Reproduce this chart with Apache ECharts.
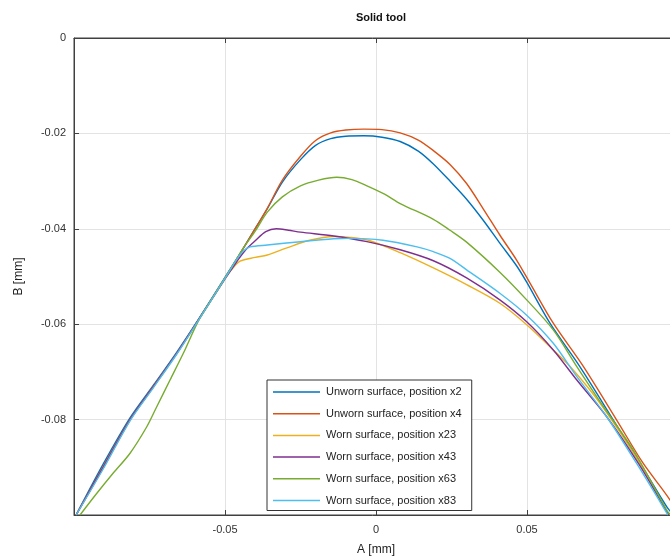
<!DOCTYPE html>
<html>
<head>
<meta charset="utf-8">
<title>Solid tool</title>
<script src="https://cdn.jsdelivr.net/npm/echarts@6/dist/echarts.min.js"></script>
<style>
    html, body { margin: 0; padding: 0; background: #fff; }
    #chart { width: 670px; height: 559px; }
</style>
</head>
<body>
<div id="chart"></div>
<script>
// [A, B] pairs in mm
let unwornX2 = [
    [-0.0993, -0.1], [-0.0903, -0.0893], [-0.0815, -0.0797], [-0.0737, -0.0728], [-0.066, -0.0659],
    [-0.0588, -0.059], [-0.05, -0.0502], [-0.045, -0.0452], [-0.0405, -0.0405], [-0.036, -0.0358],
    [-0.031, -0.0302], [-0.025, -0.0255], [-0.020, -0.0225], [-0.015, -0.0211], [-0.01, -0.0206],
    [-0.004, -0.0205], [0.002, -0.0208], [0.008, -0.0217], [0.014, -0.0237], [0.019, -0.0264],
    [0.0245, -0.0300], [0.030, -0.0338], [0.0355, -0.0382], [0.041, -0.043], [0.0466, -0.0478],
    [0.0499, -0.0512], [0.0576, -0.0598], [0.0675, -0.0689], [0.0786, -0.0801], [0.088, -0.0897],
    [0.0963, -0.0983], [0.0985, -0.1]
];
let unwornX4 = [
    [-0.0993, -0.1], [-0.0903, -0.0898], [-0.0815, -0.0800], [-0.0737, -0.0730], [-0.066, -0.0661],
    [-0.0588, -0.0591], [-0.05, -0.0503], [-0.045, -0.0452], [-0.0405, -0.0405], [-0.036, -0.0357],
    [-0.031, -0.0298], [-0.025, -0.0248], [-0.020, -0.0215], [-0.015, -0.0199], [-0.01, -0.0193],
    [-0.004, -0.0191], [0.002, -0.0192], [0.008, -0.0199], [0.014, -0.0214], [0.019, -0.0236],
    [0.0245, -0.0265], [0.030, -0.0305], [0.0355, -0.0358], [0.041, -0.0413], [0.0466, -0.0466],
    [0.051, -0.0514], [0.0587, -0.0598], [0.0687, -0.0689], [0.0797, -0.0801], [0.0885, -0.0892],
    [0.0974, -0.0969], [0.0995, -0.1]
];
let wornX23 = [
    [-0.0993, -0.1], [-0.0903, -0.0902], [-0.0815, -0.0802], [-0.0737, -0.0732], [-0.066, -0.0662],
    [-0.0588, -0.0592], [-0.05, -0.0505], [-0.048, -0.0487], [-0.045, -0.0468], [-0.04, -0.046],
    [-0.036, -0.0455], [-0.0295, -0.044], [-0.022, -0.0424], [-0.014, -0.0416], [-0.0086, -0.0418],
    [-0.002, -0.0425], [0.008, -0.0450], [0.019, -0.0482], [0.030, -0.0517], [0.041, -0.0556],
    [0.0499, -0.0601], [0.0587, -0.0654], [0.0653, -0.0696], [0.0742, -0.0766], [0.0874, -0.0892],
    [0.0968, -0.1]
];
let wornX43 = [
    [-0.0993, -0.1], [-0.0903, -0.09], [-0.0815, -0.0801], [-0.0737, -0.0731], [-0.066, -0.0661],
    [-0.0588, -0.0591], [-0.05, -0.0505], [-0.046, -0.0468], [-0.043, -0.0443], [-0.040, -0.0425],
    [-0.0365, -0.0406], [-0.033, -0.0400], [-0.029, -0.0403], [-0.025, -0.0407], [-0.014, -0.0415],
    [-0.003, -0.0427], [0.008, -0.0444], [0.019, -0.0467], [0.030, -0.0503], [0.041, -0.0549],
    [0.0499, -0.0595], [0.0587, -0.0654], [0.0665, -0.0717], [0.0764, -0.0794], [0.087, -0.0893],
    [0.0965, -0.0995], [0.097, -0.1]
];
let wornX63 = [
    [-0.098, -0.1], [-0.0925, -0.0955], [-0.087, -0.0912], [-0.0815, -0.0871], [-0.0759, -0.0815],
    [-0.0726, -0.0773], [-0.0682, -0.0717], [-0.0638, -0.0661], [-0.0588, -0.0593], [-0.054, -0.0543],
    [-0.05, -0.0503], [-0.0443, -0.0444], [-0.040, -0.0405], [-0.036, -0.0365], [-0.031, -0.0333],
    [-0.025, -0.031], [-0.019, -0.0298], [-0.013, -0.0292], [-0.008, -0.0297], [-0.003, -0.031],
    [0.003, -0.0328], [0.008, -0.0347], [0.019, -0.038], [0.0245, -0.0403], [0.030, -0.0428],
    [0.041, -0.0491], [0.0499, -0.0549], [0.0587, -0.0612], [0.0665, -0.0689], [0.0753, -0.0773],
    [0.0852, -0.0864], [0.0963, -0.099], [0.0975, -0.1]
];
let wornX83 = [
    [-0.0993, -0.1], [-0.0903, -0.0903], [-0.0815, -0.0803], [-0.0737, -0.0733], [-0.066, -0.0663],
    [-0.0588, -0.0592], [-0.05, -0.0504], [-0.046, -0.0463], [-0.044, -0.0447], [-0.0417, -0.0438],
    [-0.036, -0.0434], [-0.025, -0.0427], [-0.014, -0.0421], [-0.0086, -0.042], [0.0023, -0.0424],
    [0.0136, -0.0438], [0.019, -0.0448], [0.0245, -0.0462], [0.030, -0.0486], [0.041, -0.0535],
    [0.0499, -0.0581], [0.0587, -0.064], [0.0665, -0.071], [0.0764, -0.0794], [0.0863, -0.0892],
    [0.0963, -0.0996], [0.0966, -0.1]
];

let seriesNames = [
    'Unworn surface, position x2',
    'Unworn surface, position x4',
    'Worn surface, position x23',
    'Worn surface, position x43',
    'Worn surface, position x63',
    'Worn surface, position x83'
];
let seriesData = [unwornX2, unwornX4, wornX23, wornX43, wornX63, wornX83];

let xTicks = [-0.1, -0.05, 0, 0.05, 0.1];
let yTicks = [-0.1, -0.08, -0.06, -0.04, -0.02, 0];

let myChart = echarts.init(document.getElementById('chart'));

let fontFamily = '"Liberation Sans", Arial, sans-serif';

// edge ticks (at the box corners) get no label, like the original
function tickLabel(v, ticks) {
    if (Math.abs(v - ticks[0]) < 1e-9 || Math.abs(v - ticks[ticks.length - 1]) < 1e-9) {
        return v === 0 ? '0' : '';
    }
    return String(+v.toFixed(2));
}

let series = seriesData.map(function (d, i) {
    return {
        name: seriesNames[i],
        type: 'line',
        data: d,
        smooth: 0.3,
        symbol: 'none',
        lineStyle: { width: 1.4 },
        clip: true,
        z: 2 + i
    };
});

let axisLineStyle = { color: '#404040', width: 1 };

let option = {
    animation: false,
    color: ['#0072BD', '#D95319', '#EDB120', '#7E2F8E', '#77AC30', '#4DBEEE'],
    textStyle: { fontFamily: fontFamily },
    title: {
        text: 'Solid tool',
        left: 376,
        top: 7,
        textAlign: 'center',
        textStyle: { fontSize: 11, fontWeight: 'bold', color: '#111', fontFamily: fontFamily }
    },
    grid: {
        left: 74,
        top: 38,
        width: 604,
        height: 477,
        outerBoundsMode: 'none',
        containLabel: false,
        show: true,
        borderColor: '#404040',
        borderWidth: 1,
        backgroundColor: '#fff'
    },
    legend: {
        data: seriesNames,
        orient: 'vertical',
        left: 267,
        top: 380,
        icon: 'rect',
        itemWidth: 47,
        itemHeight: 1.5,
        itemGap: 7.7,
        padding: [5, 10, 3, 6],
        backgroundColor: '#fff',
        borderColor: '#333',
        borderWidth: 1,
        borderRadius: 0,
        textStyle: { fontSize: 11, lineHeight: 14, color: '#222', padding: [0, 0, 0, 1] }
    },
    xAxis: [{
        type: 'value',
        min: xTicks[0],
        max: xTicks[xTicks.length - 1],
        interval: 0.05,
        name: 'A [mm]',
        nameLocation: 'middle',
        nameGap: 29,
        nameTextStyle: { fontSize: 12, color: '#222' },
        axisLine: { show: true, onZero: false, lineStyle: axisLineStyle },
        axisTick: { show: true, inside: true, length: 5, lineStyle: axisLineStyle },
        axisLabel: {
            fontSize: 11, color: '#333', margin: 9,
            formatter: function (v) { return tickLabel(v, xTicks); }
        },
        splitLine: { show: true, lineStyle: { color: '#e3e3e3', width: 1 } }
    }, {
        type: 'value',
        position: 'top',
        min: xTicks[0],
        max: xTicks[xTicks.length - 1],
        interval: 0.05,
        axisLine: { show: true, onZero: false, lineStyle: axisLineStyle },
        axisTick: { show: true, inside: true, length: 5, lineStyle: axisLineStyle },
        axisLabel: { show: false },
        splitLine: { show: false }
    }],
    yAxis: {
        type: 'value',
        min: yTicks[0],
        max: yTicks[yTicks.length - 1],
        interval: 0.02,
        name: 'B [mm]',
        nameLocation: 'middle',
        nameGap: 49,
        nameTextStyle: { fontSize: 12, color: '#222' },
        axisLine: { show: true, onZero: false, lineStyle: axisLineStyle },
        axisTick: { show: true, inside: true, length: 5, lineStyle: axisLineStyle },
        axisLabel: {
            fontSize: 11, color: '#333', margin: 8,
            formatter: function (v) { return tickLabel(v, yTicks); }
        },
        splitLine: { show: true, lineStyle: { color: '#e3e3e3', width: 1 } }
    },
    series: series
};

myChart.setOption(option);
</script>
</body>
</html>
